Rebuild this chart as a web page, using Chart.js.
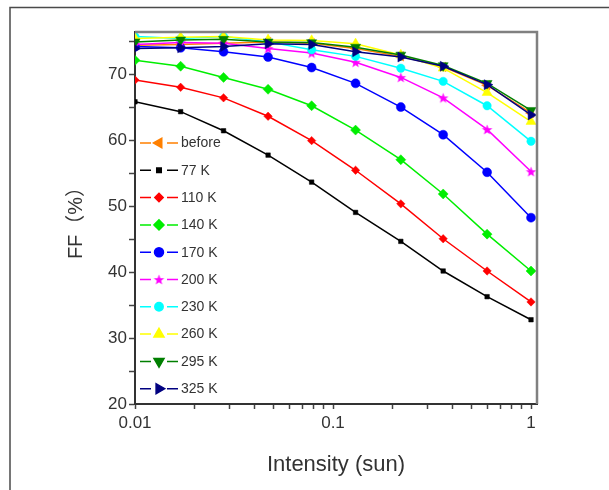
<!DOCTYPE html>
<html><head><meta charset="utf-8">
<script src="https://cdn.jsdelivr.net/npm/chart.js@4.4.0/dist/chart.umd.min.js"></script>
<style>html,body{margin:0;padding:0;background:#fff}#wrap{width:609px;height:490px;position:relative}</style>
</head><body><div id="wrap"><canvas id="c" width="609" height="490"></canvas></div>
<script>
// ---- data ----
const intensity = [0.01, 0.017, 0.028, 0.047, 0.078, 0.13, 0.22, 0.36, 0.6, 1];
const seriesNames = ['before', '77 K', '110 K', '140 K', '170 K', '200 K', '230 K', '260 K', '295 K', '325 K'];
const ffBefore = [74.5, 74.6, 74.8, 75.0, 74.8, 74.0, 72.8, 71.2, 68.4, 64.2];
const ff77 = [65.9, 64.4, 61.5, 57.8, 53.7, 49.1, 44.7, 40.2, 36.3, 32.8];
const ff110 = [69.2, 68.1, 66.5, 63.7, 60.0, 55.5, 50.4, 45.1, 40.2, 35.5];
const ff140 = [72.2, 71.3, 69.6, 67.8, 65.3, 61.6, 57.1, 51.9, 45.8, 40.2];
const ff170 = [74.3, 74.1, 73.5, 72.7, 71.1, 68.7, 65.1, 60.9, 55.2, 48.3];
const ff200 = [74.6, 74.9, 74.8, 74.0, 73.3, 71.9, 69.6, 66.5, 61.7, 55.3];
const ff230 = [75.8, 75.5, 75.8, 75.0, 73.8, 72.8, 71.0, 69.0, 65.3, 59.9];
const ff260 = [75.5, 75.7, 75.8, 75.3, 75.2, 74.7, 73.0, 71.0, 67.3, 62.9];
const ff295 = [75.0, 75.3, 75.4, 75.0, 74.9, 74.2, 73.0, 71.4, 68.7, 64.6];
const ff325 = [74.0, 74.1, 74.3, 74.7, 74.6, 73.5, 72.7, 71.3, 68.5, 63.9];
const seriesValues = [ffBefore, ff77, ff110, ff140, ff170, ff200, ff230, ff260, ff295, ff325];
const yTicks = [20, 25, 30, 35, 40, 45, 50, 55, 60, 65, 70, 75];
const yLabelTicks = [20, 30, 40, 50, 60, 70];
const xTicks = [0.01,0.02,0.03,0.04,0.05,0.06,0.07,0.08,0.09,0.1,0.2,0.3,0.4,0.5,0.6,0.7,0.8,0.9,1];
const xLabelTicks = [0.01, 0.1, 1];
const xLabelText = ['0.01', '0.1', '1'];
const xTitle = 'Intensity (sun)';
const yTitle = 'FF（%）';

// ---- styles ----
function makeStar(color, r) {
  const s = Math.ceil(r * 2 + 2);
  const cv = document.createElement('canvas');
  cv.width = s; cv.height = s;
  const g = cv.getContext('2d');
  g.fillStyle = color;
  g.beginPath();
  for (let i = 0; i < 10; i++) {
    const rr = i % 2 === 0 ? r : r * 0.42;
    const a = -Math.PI / 2 + i * Math.PI / 5;
    const px = s / 2 + rr * Math.cos(a), py = s / 2 + 0.5 + rr * Math.sin(a);
    if (i === 0) g.moveTo(px, py); else g.lineTo(px, py);
  }
  g.closePath(); g.fill();
  return cv;
}
const starImg = makeStar('#ff00ff', 5.5);
const styles = [
  {c: '#ff8000', ps: 'triangle', rot: -90, r: 5.5},
  {c: '#000000', ps: 'rect', rot: 0, r: 3.2},
  {c: '#ff0000', ps: 'rectRot', rot: 0, r: 4.2},
  {c: '#00ee00', ps: 'rectRot', rot: 0, r: 5},
  {c: '#0000ff', ps: 'circle', rot: 0, r: 4.5},
  {c: '#ff00ff', ps: starImg, rot: 0, r: 6},
  {c: '#00ffff', ps: 'circle', rot: 0, r: 4.2},
  {c: '#ffff00', ps: 'triangle', rot: 0, r: 5.8},
  {c: '#007f00', ps: 'triangle', rot: 180, r: 5.8},
  {c: '#000080', ps: 'triangle', rot: 90, r: 5.8},
];

const datasets = seriesValues.map((vals, i) => ({
  label: seriesNames[i],
  data: intensity.map((x, j) => ({x: x, y: vals[j]})),
  borderColor: styles[i].c,
  backgroundColor: styles[i].c,
  pointBackgroundColor: styles[i].c,
  pointBorderColor: styles[i].c,
  pointBorderWidth: 0.5,
  borderWidth: 1.5,
  pointStyle: styles[i].ps,
  pointRotation: styles[i].rot,
  pointRadius: styles[i].r,
  tension: 0,
  order: seriesValues.length - i,
}));

const FONT = "'Liberation Sans', Arial, 'Noto Sans CJK SC', sans-serif";

const framePlugin = {
  id: 'frame',
  beforeDraw(chart) {
    const ctx = chart.ctx;
    ctx.save();
    ctx.strokeStyle = '#4a4a4a';
    ctx.lineWidth = 1.5;
    ctx.beginPath();
    ctx.moveTo(10, 700); ctx.lineTo(10, 7.5); ctx.lineTo(700, 7.5);
    ctx.stroke();
    ctx.restore();
  },
  afterDatasetsDraw(chart) {
    const {ctx, chartArea: a} = chart;
    ctx.save();
    ctx.strokeStyle = '#808080';
    ctx.lineWidth = 2.5;
    ctx.beginPath();
    ctx.moveTo(a.left, a.top); ctx.lineTo(a.right, a.top); ctx.lineTo(a.right, a.bottom);
    ctx.stroke();
    // legend
    const x0 = 140, x1 = 178, xm = 159, tx = 181;
    const y0 = 143, dy = 27.3;
    ctx.font = '14px ' + FONT;
    ctx.textBaseline = 'middle';
    ctx.textAlign = 'left';
    chart.data.datasets.forEach((ds, i) => {
      const y = y0 + i * dy;
      const st = styles[i];
      ctx.strokeStyle = st.c;
      ctx.lineWidth = 1.5;
      ctx.beginPath();
      ctx.moveTo(x0, y); ctx.lineTo(xm - 8, y);
      ctx.moveTo(xm + 8, y); ctx.lineTo(x1, y);
      ctx.stroke();
      ctx.fillStyle = st.c;
      ctx.strokeStyle = st.c;
      Chart.helpers.drawPoint(ctx, {pointStyle: st.ps, rotation: st.rot, radius: st.r, borderWidth: 0.5}, xm, y);
      ctx.fillStyle = '#333';
      ctx.fillText(ds.label, tx, y + 0.5);
    });
    ctx.restore();
  }
};

new Chart(document.getElementById('c'), {
  type: 'line',
  data: {datasets},
  plugins: [framePlugin],
  options: {
    responsive: false,
    animation: false,
    devicePixelRatio: 1,
    layout: {padding: {left: 0, top: 32, right: 72, bottom: 0}},
    plugins: {legend: {display: false}, tooltip: {enabled: false}},
    scales: {
      x: {
        type: 'logarithmic',
        min: 0.01, max: 1.072,
        afterFit(s) { s.height = 86; },
        afterBuildTicks(s) { s.ticks = xTicks.map(v => ({value: v})); },
        grid: {drawOnChartArea: false, drawTicks: true, tickLength: 5, tickColor: '#444', tickWidth: 1.5},
        border: {display: true, color: '#333', width: 2},
        ticks: {
          autoSkip: false, maxRotation: 0, padding: 4, color: '#333',
          font: {family: FONT, size: 17},
          callback(v) { const k = xLabelTicks.findIndex(t => Math.abs(t - v) < 1e-9); return k >= 0 ? xLabelText[k] : ''; }
        },
        title: {display: true, text: xTitle, color: '#333', font: {family: FONT, size: 22}, padding: {top: 0, bottom: 12}}
      },
      y: {
        type: 'linear',
        min: 20, max: 76.5,
        afterFit(s) { s.width = 135; },
        afterBuildTicks(s) { s.ticks = yTicks.map(v => ({value: v})); },
        grid: {drawOnChartArea: false, drawTicks: true, tickLength: 6, tickColor: '#444', tickWidth: 1.5},
        border: {display: true, color: '#333', width: 2},
        ticks: {
          autoSkip: false, padding: 2, color: '#333',
          font: {family: FONT, size: 17},
          callback(v) { return yLabelTicks.includes(v) ? String(v) : ''; }
        },
        title: {display: true, text: yTitle, color: '#333', font: {family: FONT, size: 20}, padding: {top: 64, bottom: 0}}
      }
    }
  }
});
</script>
</body></html>
